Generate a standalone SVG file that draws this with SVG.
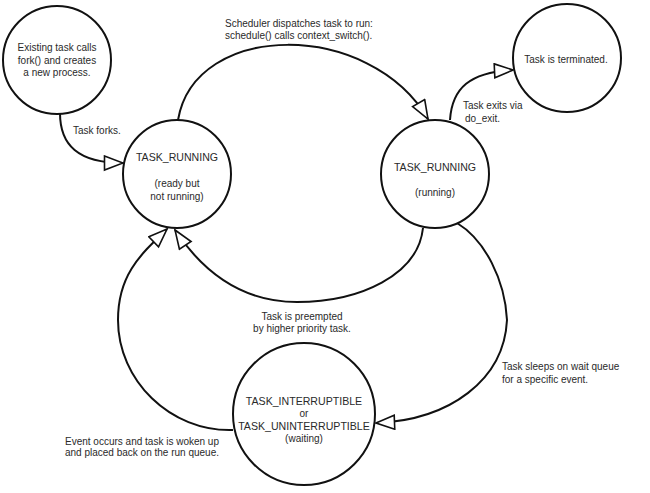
<svg xmlns="http://www.w3.org/2000/svg" width="650" height="493" viewBox="0 0 650 493">
<style>
.node circle{fill:#fff;stroke:#111;stroke-width:2}
text{font-family:"Liberation Sans",Arial,sans-serif;font-size:10px;fill:#2a2a2a}
.caps{font-size:10.6px}
.c{text-anchor:middle}
.edge{fill:none;stroke:#111;stroke-width:2;marker-end:url(#arr)}
</style>
<defs>
<marker id="arr" markerUnits="userSpaceOnUse" markerWidth="22" markerHeight="18" refX="20" refY="8" orient="auto" viewBox="0 0 22 18">
<path d="M1.5,1 L20,8 L1.5,15 Z" fill="#fff" stroke="#111" stroke-width="1.6" stroke-linejoin="miter"/>
</marker>
</defs>
<rect width="650" height="493" fill="#fff"/>
<g id="connectors">
<path class="edge" d="M60 113 C60 145 78 163 123 163"/>
<path class="edge" d="M178 120 C195 20 370 20 428 119"/>
<path class="edge" d="M450 120 C452 88 470 72 513 70"/>
<path class="edge" d="M423 228 C418 275 360 302 297 302 C245 302 205 275 175 230"/>
<path class="edge" d="M457 223 C485 240 505 280 507 320 C504 380 450 420 376 423"/>
<path class="edge" d="M233 430 C170 432 118 380 118 320 C118 275 140 255 167 229"/>
</g>
<g id="fork" class="node">
<circle cx="57" cy="60" r="54"/>
<text class="c" x="57" y="51">Existing task calls</text>
<text class="c" x="57" y="64">fork() and creates</text>
<text class="c" x="57" y="76">a new process.</text>
</g>
<g id="ready" class="node">
<circle cx="177" cy="174" r="54"/>
<text class="c caps" x="177" y="161">TASK_RUNNING</text>
<text class="c" x="177" y="187">(ready but</text>
<text class="c" x="177" y="200">not running)</text>
</g>
<g id="running" class="node">
<circle cx="435" cy="174" r="54"/>
<text class="c caps" x="435" y="171">TASK_RUNNING</text>
<text class="c" x="435" y="196">(running)</text>
</g>
<g id="terminated" class="node">
<circle cx="567" cy="58" r="54"/>
<text class="c" x="566" y="63">Task is terminated.</text>
</g>
<g id="waiting" class="node">
<circle cx="304" cy="414" r="71"/>
<text class="c caps" x="304" y="405">TASK_INTERRUPTIBLE</text>
<text class="c" x="304" y="417">or</text>
<text class="c caps" x="304" y="430">TASK_UNINTERRUPTIBLE</text>
<text class="c" x="304" y="442">(waiting)</text>
</g>
<g id="labels">
<text x="73" y="134">Task forks.</text>
<text x="225" y="27">Scheduler dispatches task to run:</text>
<text x="225" y="39">schedule() calls context_switch().</text>
<text x="463" y="109">Task exits via</text>
<text x="465" y="122">do_exit.</text>
<text class="c" x="302" y="320">Task is preempted</text>
<text class="c" x="302" y="332">by higher priority task.</text>
<text x="502" y="370">Task sleeps on wait queue</text>
<text x="502" y="383">for a specific event.</text>
<text x="65" y="445">Event occurs and task is woken up</text>
<text x="65" y="456">and placed back on the run queue.</text>
</g>
</svg>
